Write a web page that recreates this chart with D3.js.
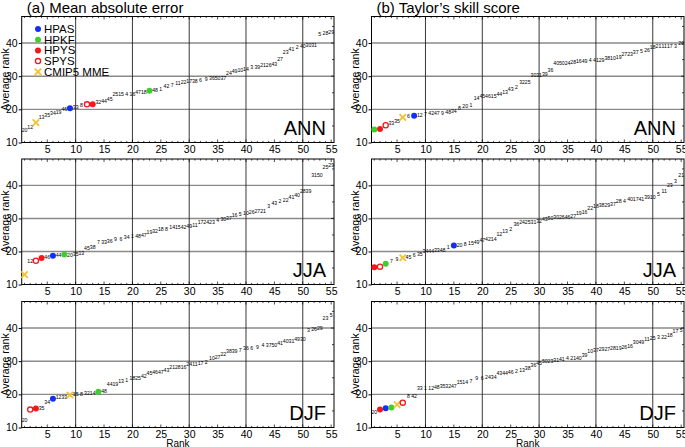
<!DOCTYPE html>
<html><head><meta charset="utf-8">
<script src="https://cdn.jsdelivr.net/npm/d3@7"></script>
<style>body{margin:0;background:#fff}svg{font-family:"Liberation Sans",Arial,Helvetica,sans-serif}</style>
</head><body><svg id="c" width="685" height="447"></svg>
<script>
// ---------- DATA ----------
const ranks = d3.range(1, 56);
const xTickValues = [5,10,15,20,25,30,35,40,45,50,55];
const yTickValues = [10,20,30,40];
const seasons = ["ANN","JJA","DJF"];
const titles = ["(a) Mean absolute error","(b) Taylor\u2019s skill score"];

const legendNames = ["HPAS","HPKF","HPYS","SPYS","CMIP5 MME"];
const legendKeys  = ["HPAS","HPKF","HPYS","SPYS","MME"];

// (a) Mean absolute error
const maeAnnLabels = ["20","12","MME","13","35","34","19","46","HPAS","33","8","SPYS","HPYS","32","44","45","25","15","4","16","47","18","HPKF","48","1","42","7","11","22","17","38","6","9","36","50","37","24","49","10","14","3","39","21","26","43","27","23","41","2","40","30","31","5","28","29"];
const maeAnnValues = [13.7,14.7,16.0,17.7,18.2,18.7,19.1,20.1,20.3,20.5,21.3,21.5,21.5,22.2,22.4,23.2,24.5,24.5,24.7,24.7,25.1,25.1,25.6,25.8,26.0,27.0,27.4,27.8,28.3,28.5,28.6,28.7,29.2,29.3,29.3,29.3,30.8,31.6,31.8,32.0,32.8,32.8,33.2,33.2,33.6,35.2,37.1,38.1,38.6,39.0,39.3,39.3,42.6,43.1,43.2];
const maeJjaLabels = ["MME","12","SPYS","HPYS","46","HPAS","44","HPKF","20","35","13","45","38","7","33","36","9","6","34","1","48","47","19","32","18","8","14","15","42","49","11","17","24","23","4","30","37","16","5","10","26","27","21","3","43","2","22","41","40","28","39","31","50","25","29"];
const maeJjaValues = [13.0,17.0,17.2,18.0,18.4,18.7,18.8,19.1,19.0,19.2,19.4,21.1,21.4,22.8,22.8,23.2,23.8,23.8,24.4,24.6,24.6,24.8,25.8,26.2,26.7,26.8,27.4,27.4,27.5,27.8,27.9,28.9,28.9,28.9,29.4,29.7,30.2,31.0,31.3,31.7,31.9,32.1,32.3,33.8,34.5,35.1,35.5,36.3,36.9,38.3,38.3,43.2,43.2,45.6,46.1];
const maeDjfLabels = ["20","SPYS","HPYS","35","34","HPAS","12","33","MME","15","8","32","14","HPKF","48","44","19","13","1","18","25","42","45","46","47","43","21","28","16","24","11","17","2","10","27","22","38","39","7","36","6","9","4","37","50","41","40","31","49","30","3","26","29","23","5"];
const maeDjfValues = [12.2,15.4,15.7,15.9,17.6,18.7,19.2,19.2,19.8,19.9,20.1,20.2,20.2,20.8,20.9,23.0,23.2,24.1,24.3,24.8,24.9,25.6,26.5,26.6,26.6,27.3,28.1,28.2,28.3,29.0,29.0,29.3,29.8,30.9,31.1,32.1,33.0,33.1,33.3,33.9,33.9,34.1,34.7,34.9,34.9,35.3,36.0,36.0,36.6,36.7,39.3,39.6,39.9,43.0,43.8];

// (b) Taylor's skill score
const tssAnnLabels = ["HPKF","HPYS","SPYS","33","35","MME","6","HPAS","12","7","42","47","9","48","34","8","20","1","14","45","46","15","44","13","43","2","32","25","30","31","39","36","40","50","24","28","16","49","4","41","29","38","10","19","27","23","37","5","26","18","21","11","17","3","22"];
const tssAnnValues = [13.9,14.1,15.2,15.9,16.3,17.6,17.9,18.1,18.2,18.5,18.8,18.8,18.9,19.2,19.5,20.3,21.0,21.1,23.5,23.9,24.1,24.1,24.7,25.1,26.0,26.6,28.1,28.1,30.3,30.3,30.7,31.8,34.0,34.0,34.0,34.1,34.5,34.5,34.7,34.9,34.9,35.4,35.5,35.6,36.6,36.6,37.2,37.4,37.7,38.8,38.9,38.9,38.9,39.1,40.0];
const tssJjaLabels = ["HPYS","SPYS","HPKF","7","9","MME","45","6","35","34","44","33","48","1","HPAS","20","8","15","49","47","42","14","12","13","2","36","24","25","31","32","43","50","30","26","46","27","19","16","22","18","38","29","37","28","4","40","17","41","39","10","5","11","23","3","21"];
const tssJjaValues = [15.2,15.4,16.3,17.2,17.7,18.1,18.4,18.8,19.2,20.1,20.2,20.3,20.4,21.3,21.8,21.8,22.2,22.6,22.8,23.5,23.7,23.7,25.1,26.2,26.7,28.4,28.9,28.9,28.9,29.3,29.9,30.0,30.4,30.4,30.4,30.7,31.6,32.0,33.2,33.8,34.1,34.1,34.3,35.2,35.2,35.9,35.9,35.9,36.5,36.5,37.3,38.4,40.1,41.4,43.2];
const tssDjfLabels = ["20","HPYS","HPAS","HPKF","MME","SPYS","8","42","33","1","12","48","35","32","47","15","14","7","9","6","24","34","43","44","46","2","13","38","36","45","50","23","31","41","4","21","40","39","10","37","29","27","28","19","26","16","30","49","11","25","3","22","18","17","5"];
const tssDjfValues = [14.5,15.4,15.8,16.0,16.9,17.5,19.5,19.5,21.8,21.8,21.9,22.1,22.4,22.4,22.4,23.7,23.7,24.1,24.9,25.0,25.1,25.1,26.5,26.5,26.6,27.0,27.2,27.9,28.8,29.3,30.1,30.1,30.3,30.7,30.8,30.9,31.0,31.8,33.0,33.3,33.6,33.6,33.8,34.0,34.1,34.5,35.8,35.8,36.6,36.9,37.2,37.2,37.8,38.9,39.2];

const panelLabels = [[maeAnnLabels,maeJjaLabels,maeDjfLabels],[tssAnnLabels,tssJjaLabels,tssDjfLabels]];
const panelValues = [[maeAnnValues,maeJjaValues,maeDjfValues],[tssAnnValues,tssJjaValues,tssDjfValues]];

// ---------- STYLE ----------
const markerColor = {HPAS:"#1230f5", HPKF:"#3ccf2e", HPYS:"#f5171b", SPYS:"#f5171b", MME:"#f2c234"};
const colX = [[21.7,334],[371.5,684]];
const rowY = [[16.5,142.5],[159,284.5],[301.5,427.5]];

const svg = d3.select("#c");

function drawMarker(g, key, cx, cy){
  if(key==="SPYS"){
    g.append("circle").attr("cx",cx).attr("cy",cy).attr("r",2.6).attr("fill","#fff").attr("stroke",markerColor[key]).attr("stroke-width",1.3);
  } else if(key==="MME"){
    const s=3.2;
    g.append("path").attr("d",`M${cx-s},${cy-s}L${cx+s},${cy+s}M${cx-s},${cy+s}L${cx+s},${cy-s}`)
      .attr("stroke",markerColor[key]).attr("stroke-width",1.8).attr("fill","none");
  } else {
    g.append("circle").attr("cx",cx).attr("cy",cy).attr("r",3).attr("fill",markerColor[key]);
  }
}

for(let c=0;c<2;c++){
  for(let r=0;r<3;r++){
    const [x0,x1]=colX[c], [y0,y1]=rowY[r];
    const x=d3.scaleLinear().domain([0.5,55.5]).range([x0,x1]);
    const y=d3.scaleLinear().domain([10,48]).range([y1,y0]);
    const g=svg.append("g");
    g.selectAll(".hg").data([20,30,40]).join("line")
      .attr("x1",x0).attr("x2",x1).attr("y1",d=>y(d)).attr("y2",d=>y(d))
      .attr("stroke","#8a8a8a").attr("stroke-width",1.4);
    g.selectAll(".vg").data([10,20,30,40,50]).join("line")
      .attr("x1",d=>x(d)).attr("x2",d=>x(d)).attr("y1",y0).attr("y2",y1)
      .attr("stroke","#222").attr("stroke-width",0.9);
    g.selectAll(".bt").data(ranks).join("line")
      .attr("x1",d=>x(d)).attr("x2",d=>x(d)).attr("y1",y1).attr("y2",d=>y1-(d%5===0?3:1.6))
      .attr("stroke","#000").attr("stroke-width",0.7);
    g.selectAll(".tt").data(ranks).join("line")
      .attr("x1",d=>x(d)).attr("x2",d=>x(d)).attr("y1",y0).attr("y2",d=>y0+(d%5===0?3:1.6))
      .attr("stroke","#000").attr("stroke-width",0.7);
    g.selectAll(".rt").data([15,20,25,30,35,40,45]).join("line")
      .attr("x1",x1).attr("x2",d=>x1-(d%10===0?3:2)).attr("y1",d=>y(d)).attr("y2",d=>y(d))
      .attr("stroke","#000").attr("stroke-width",0.7);
    g.append("rect").attr("x",x0).attr("y",y0).attr("width",x1-x0).attr("height",y1-y0)
      .attr("fill","none").attr("stroke","#000").attr("stroke-width",1);
    const xa=g.append("g").attr("transform",`translate(0,${y1})`)
      .call(d3.axisBottom(x).tickValues(xTickValues).tickSize(0).tickPadding(3));
    xa.select(".domain").remove();
    xa.selectAll("text").attr("font-size",10.5).attr("fill","#000").attr("font-family","Liberation Sans, Arial, sans-serif");
    const ya=g.append("g").attr("transform",`translate(${x0},0)`)
      .call(d3.axisLeft(y).tickValues(yTickValues).tickSize(3).tickPadding(1));
    ya.select(".domain").remove();
    ya.selectAll("text").attr("font-size",10.5).attr("fill","#000").attr("font-family","Liberation Sans, Arial, sans-serif");
    ya.selectAll("line").attr("stroke","#000");
    g.append("text").attr("transform",`translate(${x0-12.5},${(y0+y1)/2}) rotate(-90)`)
      .attr("text-anchor","middle").attr("font-size",10.5).text("Average rank");
    g.append("text").attr("x",x1-8).attr("y",y1-8).attr("text-anchor","end")
      .attr("font-size",20).text(seasons[r]);
    const labs=panelLabels[c][r], vals=panelValues[c][r];
    ranks.forEach((rk,i)=>{
      const lab=labs[i], v=vals[i];
      if(markerColor[lab]) drawMarker(g,lab,x(rk),y(v));
      else g.append("text").attr("x",x(rk)).attr("y",y(v)+1.8).attr("text-anchor","middle")
        .attr("font-size",5.2).attr("fill","#000").text(lab);
    });
    if(r===2){
      g.append("text").attr("x",(x0+x1)/2).attr("y",446.5).attr("text-anchor","middle").attr("font-size",10).text("Rank");
    }
    if(r===0){
      g.append("text").attr("x",x0+5).attr("y",13).attr("font-size",15).text(titles[c]);
    }
    if(c===0 && r===0){
      const lg=g.append("g");
      legendKeys.forEach((k,i)=>{
        const ly=29+i*10.7;
        drawMarker(lg,k,38,ly);
        lg.append("text").attr("x",44).attr("y",ly+4).attr("font-size",11.5).text(legendNames[i]);
      });
    }
  }
}
</script></body></html>
